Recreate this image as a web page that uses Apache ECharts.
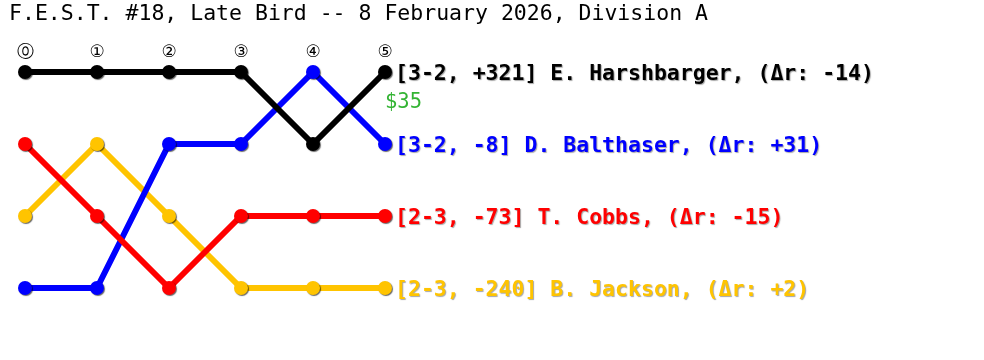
<!DOCTYPE html>
<html><head><meta charset="utf-8">
<script src="https://cdn.jsdelivr.net/npm/echarts@6/dist/echarts.min.js"></script>
<style>html,body{margin:0;padding:0;background:#fff}#c{width:984px;height:360px}</style>
</head><body><div id="c"></div>
<script>
const title = 'F.E.S.T. #18, Late Bird -- 8 February 2026, Division A';
const rounds = ['⓪', '①', '②', '③', '④', '⑤'];
const players = ['B. Jackson', 'D. Balthaser', 'T. Cobbs', 'E. Harshbarger'];
const records = ['2-3', '3-2', '2-3', '3-2'];
const spreads = ['-240', '-8', '-73', '+321'];
const ratingDeltas = ['+2', '+31', '-15', '-14'];
const prizes = ['', '', '', '$35'];
const colors = ['#ffc400', '#0000ff', '#ff0000', '#000000'];
const rankJackson = [3, 2, 3, 4, 4, 4];
const rankBalthaser = [4, 4, 2, 2, 1, 2];
const rankCobbs = [2, 3, 4, 3, 3, 3];
const rankHarshbarger = [1, 1, 1, 1, 2, 1];
const ranks = [rankJackson, rankBalthaser, rankCobbs, rankHarshbarger];

const FONT = 'DejaVu Sans Mono';
const series = players.map((p, i) => ({
  type: 'line',
  name: p,
  data: ranks[i],
  color: colors[i],
  lineStyle: { width: 6, color: colors[i] },
  symbol: 'circle',
  symbolSize: 14,
  showAllSymbol: true,
  itemStyle: { color: colors[i], shadowColor: 'rgba(0,0,0,0.6)', shadowOffsetX: 1, shadowOffsetY: 1, shadowBlur: 1 },
  emphasis: { disabled: true },
  animation: false,
  z: 2 + i,
  endLabel: {
    show: true,
    distance: 5,
    offset: [5, 2],
    formatter: '[' + records[i] + ', ' + spreads[i] + '] ' + p + ', (Δr: ' + ratingDeltas[i] + ')',
    color: colors[i],
    fontFamily: FONT,
    fontWeight: 'bold',
    fontSize: 21.5,
    textShadowColor: 'rgba(0,0,0,0.35)',
    textShadowOffsetX: 1,
    textShadowOffsetY: 1,
    textShadowBlur: 1
  }
}));

const prizeData = [];
players.forEach((p, i) => {
  if (prizes[i]) prizeData.push({ value: [rounds.length - 1, ranks[i][rounds.length - 1]], prize: prizes[i] });
});
series.push({
  type: 'scatter',
  data: prizeData,
  symbolSize: 0,
  silent: true,
  animation: false,
  z: 10,
  label: {
    show: true,
    position: [0, 20],
    formatter: (p) => p.data.prize,
    color: '#00a000',
    fontFamily: FONT,
    fontSize: 20.5
  }
});

const chart = echarts.init(document.getElementById('c'));
chart.setOption({
  backgroundColor: '#fff',
  animation: false,
  title: {
    text: title, left: 4, top: -2,
    textStyle: { fontFamily: FONT, fontWeight: 'normal', fontSize: 21.5, color: '#000' }
  },
  grid: { left: 25, right: 599, top: 72, bottom: 72 },
  xAxis: {
    type: 'category', data: rounds, boundaryGap: false, position: 'top',
    axisLine: { show: false }, axisTick: { show: false }, splitLine: { show: false },
    axisLabel: { margin: 11, fontFamily: 'DejaVu Sans', fontSize: 17, color: '#000', interval: 0 }
  },
  yAxis: { type: 'value', inverse: true, min: 1, max: 4, show: false },
  series: series
});
</script></body></html>
